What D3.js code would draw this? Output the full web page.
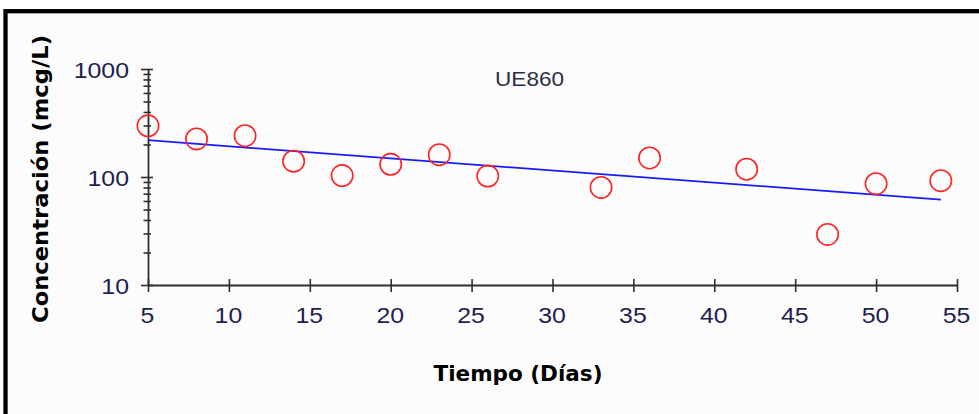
<!DOCTYPE html>
<html>
<head>
<meta charset="utf-8">
<script src="https://cdn.jsdelivr.net/npm/d3@7"></script>
<style>
  html, body { margin: 0; padding: 0; background: #ffffff; }
  svg { display: block; }
</style>
</head>
<body>
<svg id="chart" width="979" height="414"></svg>
<script>
// Sampling days and measured concentrations (mcg/L) for UE860
const days = [5, 8, 11, 14, 17, 20, 23, 26, 33, 36, 42, 47, 50, 54];
const concentrations = [298, 225, 241, 140, 103, 131, 161, 102, 80, 150, 118, 29.4, 86.7, 92.5];

// Axis ticks
const xTicks = [5, 10, 15, 20, 25, 30, 35, 40, 45, 50, 55];
const yMajorTicks = [10, 100, 1000];
const yMinorTicks = [20, 30, 40, 50, 60, 70, 80, 90, 200, 300, 400, 500, 600, 700, 800, 900];

const seriesLabel = "UE860";
const xTitle = "Tiempo (Días)";
const yTitle = "Concentración (mcg/L)";

const svg = d3.select("#chart");

// Panel frame
svg.append("rect")
  .attr("x", 5.5).attr("y", 11.2)
  .attr("width", 1000).attr("height", 420)
  .attr("fill", "#fcfcfc")
  .attr("stroke", "#000").attr("stroke-width", 4.3);

const x = d3.scaleLinear().domain([5, 55]).range([148, 957]);
const y = d3.scaleLog().domain([10, 1000]).range([285, 69]);

const axisColor = "#2e2e2e";
const labelColor = "#1e1e50";
const stretch = "scale(1.13,1)";

function styleAxis(g) {
  g.select(".domain").attr("stroke", axisColor).attr("stroke-width", 1.8);
  g.selectAll(".tick line").attr("stroke", axisColor).attr("stroke-width", 1.6);
}

// Y axis: major ticks crossing the axis, with labels
const yAxisG = svg.append("g").attr("transform", `translate(${x(5)},0)`)
  .call(d3.axisLeft(y).tickValues(yMajorTicks).tickSizeInner(7).tickSizeOuter(0)
    .tickFormat(d3.format("d")));
styleAxis(yAxisG);
yAxisG.selectAll(".tick text")
  .attr("x", null).attr("dy", null)
  .attr("transform", `translate(-19,8) ${stretch}`)
  .attr("text-anchor", "end")
  .attr("font-family", "'Liberation Sans', Arial, sans-serif")
  .attr("font-size", 22)
  .attr("fill", labelColor);

const yAxisRight = svg.append("g").attr("transform", `translate(${x(5)},0)`)
  .call(d3.axisRight(y).tickValues(yMajorTicks).tickSizeInner(5).tickSizeOuter(0).tickFormat(""));
styleAxis(yAxisRight);
yAxisRight.select(".domain").remove();

// Minor log ticks, also crossing the axis
const yMinorL = svg.append("g").attr("transform", `translate(${x(5)},0)`)
  .call(d3.axisLeft(y).tickValues(yMinorTicks).tickSizeInner(4.5).tickSizeOuter(0).tickFormat(""));
styleAxis(yMinorL);
yMinorL.select(".domain").remove();
const yMinorR = svg.append("g").attr("transform", `translate(${x(5)},0)`)
  .call(d3.axisRight(y).tickValues(yMinorTicks).tickSizeInner(3).tickSizeOuter(0).tickFormat(""));
styleAxis(yMinorR);
yMinorR.select(".domain").remove();

// X axis: ticks below (with labels) and above the line
const xAxisG = svg.append("g").attr("transform", `translate(0,${y(10)})`)
  .call(d3.axisBottom(x).tickValues(xTicks).tickSizeInner(7).tickSizeOuter(0)
    .tickFormat(d3.format("d")));
styleAxis(xAxisG);
xAxisG.selectAll(".tick text")
  .attr("y", null).attr("dy", null)
  .attr("transform", `translate(-1,38) ${stretch}`)
  .attr("text-anchor", "middle")
  .attr("font-family", "'Liberation Sans', Arial, sans-serif")
  .attr("font-size", 22)
  .attr("fill", labelColor);

const xAxisTop = svg.append("g").attr("transform", `translate(0,${y(10)})`)
  .call(d3.axisTop(x).tickValues(xTicks).tickSizeInner(6).tickSizeOuter(0).tickFormat(""));
styleAxis(xAxisTop);
xAxisTop.select(".domain").remove();

// Exponential trend: least squares fit of log10(concentration) on day
const logs = concentrations.map(v => Math.log10(v));
const mx = d3.mean(days), my = d3.mean(logs);
const sxy = d3.sum(days, (d, i) => (d - mx) * (logs[i] - my));
const sxx = d3.sum(days, d => (d - mx) * (d - mx));
const slope = sxy / sxx;
const intercept = my - slope * mx;
const fitDays = d3.extent(days);
const fitPoints = fitDays.map(d => [d, Math.pow(10, intercept + slope * d)]);

svg.append("path")
  .datum(fitPoints)
  .attr("d", d3.line().x(d => x(d[0])).y(d => y(d[1])))
  .attr("fill", "none")
  .attr("stroke", "#1a1aff")
  .attr("stroke-width", 1.7);

// Measured points
svg.append("g").selectAll("circle")
  .data(days.map((d, i) => [d, concentrations[i]]))
  .join("circle")
  .attr("cx", d => x(d[0]))
  .attr("cy", d => y(d[1]))
  .attr("r", 10.7)
  .attr("fill", "none")
  .attr("stroke", "#ff2222")
  .attr("stroke-width", 1.6);

// Series label
svg.append("text")
  .attr("transform", `translate(495,86) ${stretch}`)
  .attr("font-family", "'Liberation Sans', Arial, sans-serif")
  .attr("font-size", 20)
  .attr("fill", "#2b2f48")
  .text(seriesLabel);

// Axis titles
svg.append("text")
  .attr("x", 518).attr("y", 381)
  .attr("text-anchor", "middle")
  .attr("font-family", "'DejaVu Sans', sans-serif")
  .attr("font-weight", "bold")
  .attr("font-size", 22)
  .attr("textLength", 169)
  .attr("lengthAdjust", "spacingAndGlyphs")
  .attr("fill", "#000")
  .text(xTitle);

svg.append("text")
  .attr("transform", "translate(47.5,179) rotate(-90)")
  .attr("text-anchor", "middle")
  .attr("font-family", "'DejaVu Sans', sans-serif")
  .attr("font-weight", "bold")
  .attr("font-size", 22)
  .attr("textLength", 288)
  .attr("lengthAdjust", "spacingAndGlyphs")
  .attr("fill", "#000")
  .text(yTitle);
</script>
</body>
</html>
